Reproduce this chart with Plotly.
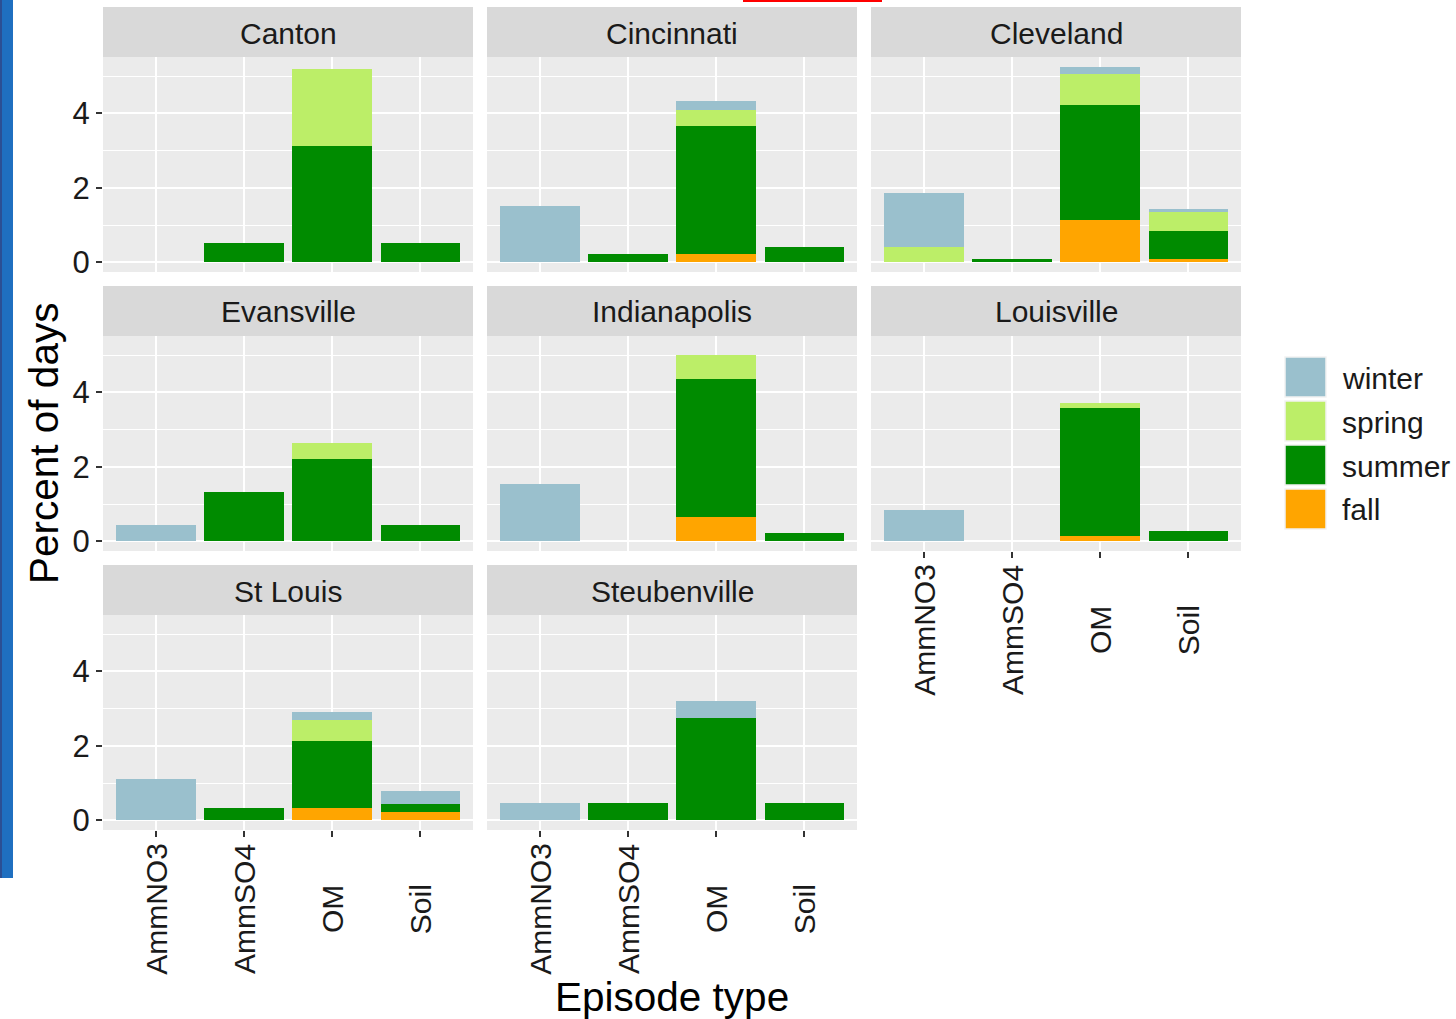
import plotly.graph_objects as go

# ---- data: percent of days per episode type, split by season ----
cities = ["Canton", "Cincinnati", "Cleveland", "Evansville",
          "Indianapolis", "Louisville", "St Louis", "Steubenville"]
episode_types = ["AmmNO3", "AmmSO4", "OM", "Soil"]
seasons = ["winter", "spring", "summer", "fall"]

# rows = cities, columns = episode types
winter = [
    [0.00, 0.00, 0.00, 0.00],
    [1.51, 0.00, 0.23, 0.00],
    [1.45, 0.00, 0.20, 0.09],
    [0.43, 0.00, 0.00, 0.00],
    [1.53, 0.00, 0.00, 0.00],
    [0.85, 0.00, 0.00, 0.00],
    [1.12, 0.00, 0.23, 0.35],
    [0.45, 0.00, 0.45, 0.00],
]
spring = [
    [0.00, 0.00, 2.08, 0.00],
    [0.00, 0.00, 0.43, 0.00],
    [0.41, 0.00, 0.82, 0.51],
    [0.00, 0.00, 0.43, 0.00],
    [0.00, 0.00, 0.64, 0.00],
    [0.00, 0.00, 0.13, 0.00],
    [0.00, 0.00, 0.56, 0.00],
    [0.00, 0.00, 0.00, 0.00],
]
summer = [
    [0.00, 0.52, 3.12, 0.52],
    [0.00, 0.21, 3.45, 0.42],
    [0.00, 0.10, 3.10, 0.73],
    [0.00, 1.32, 2.21, 0.43],
    [0.00, 0.00, 3.72, 0.22],
    [0.00, 0.00, 3.44, 0.28],
    [0.00, 0.33, 1.80, 0.21],
    [0.00, 0.45, 2.74, 0.45],
]
fall = [
    [0.00, 0.00, 0.00, 0.00],
    [0.00, 0.00, 0.21, 0.00],
    [0.00, 0.00, 1.13, 0.10],
    [0.00, 0.00, 0.00, 0.00],
    [0.00, 0.00, 0.64, 0.00],
    [0.00, 0.00, 0.14, 0.00],
    [0.00, 0.00, 0.33, 0.22],
    [0.00, 0.00, 0.00, 0.00],
]
season_values = {"winter": winter, "spring": spring, "summer": summer, "fall": fall}
season_colors = {"winter": "#9AC0CD", "spring": "#BCEE68",
                 "summer": "#008B00", "fall": "#FFA500"}

# ---- page geometry (pixels) ----
W, H = 1456, 1019
col_x = [(103, 473), (487, 857), (871, 1241)]
row_y = [(57, 272), (336, 551), (615, 830)]       # panel areas
strip_h = 50
FONT = "Liberation Sans, Arial, Helvetica, sans-serif"
TEXT = "#1a1a1a"


def px(x):
    return x / W


def py(y):
    return 1 - y / H


# shared y scale with 5% expansion on both sides
totals = [sum(season_values[s][c][t] for s in seasons)
          for c in range(len(cities)) for t in range(len(episode_types))]
ymax = max(totals)
y_range = [-0.05 * ymax, 1.05 * ymax]

fig = go.Figure()
shapes = []
annotations = []
bottom_panels = {5, 6, 7}

for i, city in enumerate(cities):
    r, c = divmod(i, 3)
    k = "" if i == 0 else str(i + 1)
    xa, ya = "x" + k, "y" + k
    # stacked from the bottom: fall, summer, spring, winter
    for s in ["fall", "summer", "spring", "winter"]:
        fig.add_trace(go.Bar(
            x=episode_types, y=season_values[s][i], name=s,
            marker=dict(color=season_colors[s], line=dict(width=0)),
            width=0.9, xaxis=xa, yaxis=ya, showlegend=False,
        ))
    x0, x1 = col_x[c]
    y0, y1 = row_y[r]
    show_x = i in bottom_panels
    show_y = c == 0
    fig.layout["xaxis" + k] = dict(
        domain=[px(x0), px(x1)], anchor=ya, type="category",
        categoryorder="array", categoryarray=episode_types,
        range=[-0.6, 3.6], showgrid=True, gridcolor="white", gridwidth=2,
        showline=False, zeroline=False, showticklabels=False, automargin=False,
        ticks="outside" if show_x else "",
        ticklen=6, tickwidth=2, tickcolor="#333333",
    )
    fig.layout["yaxis" + k] = dict(
        domain=[py(y1), py(y0)], anchor=xa, range=y_range, automargin=False,
        tickvals=[0, 2, 4], showgrid=True, gridcolor="white", gridwidth=2,
        minor=dict(tickvals=[1, 3, 5], showgrid=True, gridcolor="white",
                   gridwidth=1, ticks=""),
        showline=False, zeroline=False,
        showticklabels=show_y, ticks="outside" if show_y else "",
        ticklen=6, tickwidth=2, tickcolor="#333333",
        tickfont=dict(family=FONT, size=31, color=TEXT),
    )
    # rotated category labels, centred under each tick
    if show_x:
        for t in episode_types:
            annotations.append(dict(text=t, xref=xa, yref="paper", x=t,
                                    y=py(y1 + 79), textangle=-90,
                                    xanchor="center", yanchor="middle",
                                    showarrow=False,
                                    font=dict(family=FONT, size=30, color=TEXT)))
    # facet strip
    shapes.append(dict(type="rect", xref="paper", yref="paper",
                       x0=px(x0), x1=px(x1), y0=py(y0), y1=py(y0 - strip_h),
                       fillcolor="#D9D9D9", line=dict(width=0), layer="below"))
    annotations.append(dict(text=city, xref="paper", yref="paper",
                            x=px((x0 + x1) / 2), y=py(y0 - strip_h / 2 + 1),
                            xanchor="center", yanchor="middle", showarrow=False,
                            font=dict(family=FONT, size=30, color=TEXT)))

# legend drawn as keys + labels
key_x0, key_x1 = 1285, 1326
for j, s in enumerate(seasons):
    top = 357 + j * 44
    shapes.append(dict(type="rect", xref="paper", yref="paper",
                       x0=px(key_x0), x1=px(key_x1), y0=py(top + 40), y1=py(top),
                       fillcolor=season_colors[s],
                       line=dict(color="#F2F2F2", width=1.5)))
    annotations.append(dict(text=s, xref="paper", yref="paper",
                            x=px(1340), y=py(top + 21), xanchor="left",
                            yanchor="middle", showarrow=False,
                            font=dict(family=FONT, size=30, color=TEXT)))

# axis titles
annotations.append(dict(text="Percent of days", xref="paper", yref="paper",
                        x=px(44), y=py(444), textangle=-90, xanchor="center",
                        yanchor="middle", showarrow=False,
                        font=dict(family=FONT, size=40.5, color="black")))
annotations.append(dict(text="Episode type", xref="paper", yref="paper",
                        x=px(672), y=py(997), xanchor="center", yanchor="middle",
                        showarrow=False,
                        font=dict(family=FONT, size=40.5, color="black")))

# page edge decorations
shapes.append(dict(type="rect", xref="paper", yref="paper", x0=0, x1=px(13),
                   y0=py(878), y1=1, fillcolor="#1F6FC0", line=dict(width=0)))
shapes.append(dict(type="rect", xref="paper", yref="paper", x0=0, x1=px(2),
                   y0=py(878), y1=1, fillcolor="#2B4F94", line=dict(width=0)))
shapes.append(dict(type="rect", xref="paper", yref="paper", x0=px(743), x1=px(882),
                   y0=py(2), y1=1, fillcolor="#FF0000", line=dict(width=0)))

fig.update_layout(
    width=W, height=H, margin=dict(l=0, r=0, t=0, b=0, autoexpand=False),
    barmode="stack", bargap=0.1,
    plot_bgcolor="#EBEBEB", paper_bgcolor="white",
    shapes=shapes, annotations=annotations, showlegend=False,
    font=dict(family=FONT),
)

fig.write_html("out.html")
